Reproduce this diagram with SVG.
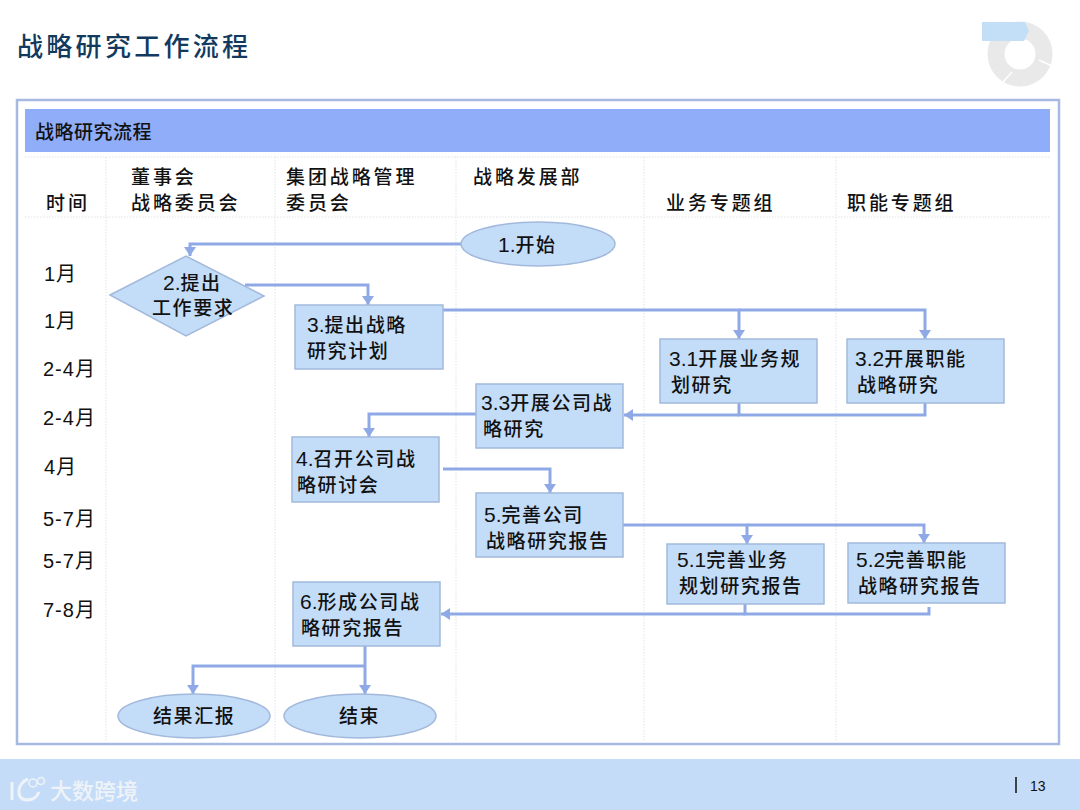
<svg xmlns="http://www.w3.org/2000/svg" width="1080" height="810" viewBox="0 0 1080 810">
<style>
text{font-family:"Liberation Sans","Noto Sans CJK SC",sans-serif;fill:#111;font-weight:500}
.n{font-size:19px;letter-spacing:1.6px}
.d{font-size:21px;letter-spacing:0;font-weight:400}
.h{font-size:19px;letter-spacing:2.9px}
.t{font-size:20px;letter-spacing:1px;font-weight:400}
.s{fill:#c3dcf8;stroke:#a3b9dc;stroke-width:1.5}
.g{stroke:#dfe3e8;stroke-width:1;stroke-dasharray:1.5 1.5;fill:none}
.c{fill:none;stroke:#8fa9e6;stroke-width:3}
.a{marker-end:url(#ah)}
</style>
<defs><marker id="ah" markerUnits="userSpaceOnUse" markerWidth="12" markerHeight="14" refX="9" refY="7" orient="auto"><path d="M0 1L9 7L0 13Z" fill="#8fa9e6"/></marker></defs>
<rect width="1080" height="810" fill="#fff"/>
<text x="17" y="56" style="font-size:26px;letter-spacing:3.3px;fill:#123a5e">战略研究工作流程</text>
<g id="logo">
<circle cx="1020" cy="54" r="24" fill="none" stroke="#e9e9e9" stroke-width="17"/>
<path d="M1039 60L1052 66M1012 72L1003 82" stroke="#fff" stroke-width="1.5"/>
<path d="M982 22H1025L1029 31L1024 41H982Z" fill="#c3dff8"/>
</g>
<rect id="frame" x="17" y="100" width="1042" height="644" fill="#fff" stroke="#a6b9e0" stroke-width="2.5"/>
<rect x="25" y="109" width="1025" height="43" fill="#8fadf8"/>
<text x="35" y="139" style="font-size:19px;letter-spacing:.5px">战略研究流程</text>
<g id="grid">
<path class="g" d="M25 157H1050M25 217H1050M106 157V742M275 157V742M456 157V742M644 157V742M836 157V742"/>
</g>
<g id="headers">
<text class="h" x="46" y="210">时间</text>
<text class="h" x="131" y="184">董事会</text><text class="h" x="131" y="210">战略委员会</text>
<text class="h" x="286" y="184">集团战略管理</text><text class="h" x="286" y="210">委员会</text>
<text class="h" x="473" y="184">战略发展部</text>
<text class="h" x="666" y="210">业务专题组</text>
<text class="h" x="847" y="210">职能专题组</text>
</g>
<g id="months">
<text class="t" x="44" y="281">1月</text><text class="t" x="44" y="328">1月</text>
<text class="t" x="43" y="376">2-4月</text><text class="t" x="43" y="425">2-4月</text>
<text class="t" x="44" y="474">4月</text><text class="t" x="43" y="526">5-7月</text>
<text class="t" x="43" y="568">5-7月</text><text class="t" x="43" y="617">7-8月</text>
</g>
<g id="connectors">
<path class="c a" d="M461 244H190V256"/>
<path class="c a" d="M245 285H368V305"/>
<path class="c a" d="M443 310H739V339"/>
<path class="c a" d="M739 310H925V339"/>
<path class="c" d="M925 403V415H739V403"/>
<path class="c a" d="M739 415H624"/>
<path class="c a" d="M476 414H369V437"/>
<path class="c a" d="M443 469H550V493"/>
<path class="c a" d="M623 525H747V544"/>
<path class="c a" d="M747 525H924V543"/>
<path class="c" d="M929 607V614H745V604"/>
<path class="c a" d="M745 614H441"/>
<path class="c a" d="M365 646V694"/>
<path class="c a" d="M365 666H193V694"/>
</g>
<g id="n1"><ellipse class="s" cx="538" cy="244" rx="77" ry="22"/><text class="n" x="498" y="252"><tspan class="d">1.</tspan>开始</text></g>
<g id="n2"><polygon class="s" points="110,295 186,256 264,296 186,336"/><text class="n" x="163" y="290"><tspan class="d">2.</tspan>提出</text><text class="n" x="152" y="315">工作要求</text></g>
<g id="n3"><rect class="s" x="295" y="305" width="148" height="64"/><text class="n" x="307" y="332"><tspan class="d">3.</tspan>提出战略</text><text class="n" x="307" y="358">研究计划</text></g>
<g id="n31"><rect class="s" x="660" y="339" width="157" height="64"/><text class="n" x="669" y="366"><tspan class="d">3.1</tspan>开展业务规</text><text class="n" x="671" y="392">划研究</text></g>
<g id="n32"><rect class="s" x="847" y="339" width="157" height="64"/><text class="n" x="855" y="366"><tspan class="d">3.2</tspan>开展职能</text><text class="n" x="857" y="392">战略研究</text></g>
<g id="n33"><rect class="s" x="476" y="384" width="147" height="64"/><text class="n" x="481" y="410"><tspan class="d">3.3</tspan>开展公司战</text><text class="n" x="483" y="436">略研究</text></g>
<g id="n4"><rect class="s" x="292" y="437" width="147" height="65"/><text class="n" x="296" y="466"><tspan class="d">4.</tspan>召开公司战</text><text class="n" x="297" y="492">略研讨会</text></g>
<g id="n5"><rect class="s" x="476" y="493" width="147" height="64"/><text class="n" x="484" y="522"><tspan class="d">5.</tspan>完善公司</text><text class="n" x="486" y="548">战略研究报告</text></g>
<g id="n51"><rect class="s" x="667" y="544" width="157" height="60"/><text class="n" x="677" y="567"><tspan class="d">5.1</tspan>完善业务</text><text class="n" x="679" y="593">规划研究报告</text></g>
<g id="n52"><rect class="s" x="848" y="543" width="157" height="60"/><text class="n" x="856" y="567"><tspan class="d">5.2</tspan>完善职能</text><text class="n" x="858" y="593">战略研究报告</text></g>
<g id="n6"><rect class="s" x="293" y="582" width="147" height="64"/><text class="n" x="300" y="609"><tspan class="d">6.</tspan>形成公司战</text><text class="n" x="301" y="635">略研究报告</text></g>
<g id="n7"><ellipse class="s" cx="194" cy="716" rx="76" ry="22"/><text class="n" x="153" y="723">结果汇报</text></g>
<g id="n8"><ellipse class="s" cx="360" cy="716" rx="76" ry="22"/><text class="n" x="339" y="723">结束</text></g>
<g id="footer">
<rect y="759" width="1080" height="51" fill="#c5dcf8"/>
<path d="M1016 777V793" stroke="#111" stroke-width="1.5"/>
<text x="1030" y="791" style="font-size:14px;font-weight:400">13</text>
<path d="M12 782V800M28 779C17 783 15 800 27 800C33 800 37 797 39 792" fill="none" stroke="#eef3f8" stroke-width="3"/>
<circle cx="33" cy="783" r="4" fill="none" stroke="#eef3f8" stroke-width="1.5"/>
<circle cx="41" cy="781" r="3.5" fill="none" stroke="#eef3f8" stroke-width="1.5"/>
<text x="50" y="799" style="font-size:22px;fill:#eef3f8">大数跨境</text>
</g>
</svg>
